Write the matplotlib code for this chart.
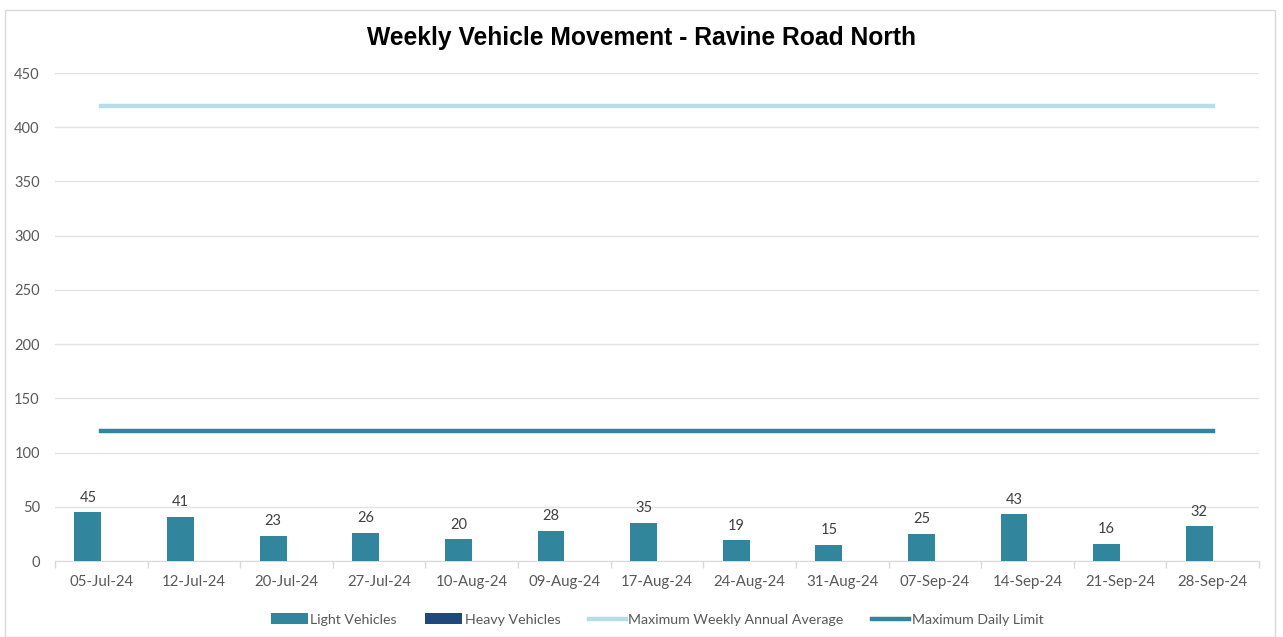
import numpy as np
import matplotlib
matplotlib.use("Agg")
import matplotlib.pyplot as plt
from matplotlib.patches import Rectangle

weeks = ["05-Jul-24", "12-Jul-24", "20-Jul-24", "27-Jul-24", "10-Aug-24", "09-Aug-24",
         "17-Aug-24", "24-Aug-24", "31-Aug-24", "07-Sep-24", "14-Sep-24", "21-Sep-24", "28-Sep-24"]
light = [45, 41, 23, 26, 20, 28, 35, 19, 15, 25, 43, 16, 32]
heavy = [0] * 13
weekly_avg = [420] * 13
daily_limit = [120] * 13

plt.rcParams['font.family'] = ['Lato', 'DejaVu Sans']

fig = plt.figure(figsize=(12.83, 6.37), dpi=100)
ax = fig.add_axes([0.0429, 0.1193, 0.9384, 0.7661])

x = np.arange(len(weeks))
w = 0.29
b1 = ax.bar(x - w / 2, light, w, color="#31859C", label="Light Vehicles", zorder=3)
b2 = ax.bar(x + w / 2, heavy, w, color="#1F497D", label="Heavy Vehicles", zorder=3)
l1, = ax.plot(x, weekly_avg, color="#B7DEE8", lw=3.2, label="Maximum Weekly Annual Average", zorder=4)
l2, = ax.plot(x, daily_limit, color="#31859C", lw=3.2, label="Maximum Daily Limit", zorder=4)

for xi, v in zip(x, light):
    ax.text(xi - w / 2, v + 7, str(v), ha="center", va="bottom", fontsize=10.5, color="#404040")

ax.set_xlim(-0.5, len(weeks) - 0.5)
ax.set_ylim(0, 450)
ax.set_yticks(np.arange(0, 451, 50))
ax.set_xticks(x)
ax.set_xticklabels(weeks)
ax.set_xticks(np.arange(-0.5, len(weeks), 1), minor=True)
ax.tick_params(axis="x", which="major", length=0, pad=10, labelsize=10.8, labelcolor="#595959")
ax.tick_params(axis="x", which="minor", length=5, color="#D9D9D9", width=1)
ax.tick_params(axis="y", length=0, pad=11, labelsize=10.5, labelcolor="#595959")
ax.grid(axis="y", color="#E3E3E3", lw=1, zorder=0)
for s in ["top", "right", "left"]:
    ax.spines[s].set_visible(False)
ax.spines["bottom"].set_color("#D9D9D9")

fig.text(0.5, 0.94, "Weekly Vehicle Movement - Ravine Road North", ha="center", va="center",
         fontsize=17.7, fontweight="bold", family="Liberation Sans")

ax.legend([b1, b2, l1, l2], [h.get_label() for h in [b1, b2, l1, l2]],
          loc="center", bbox_to_anchor=(0.5, -0.12), ncol=4, frameon=False, fontsize=10.2,
          labelcolor="#595959", handlelength=2.6, handleheight=0.8, handletextpad=0.2, columnspacing=2.0)

fig.patches.append(Rectangle((0.004, 0.0), 0.99, 0.984, transform=fig.transFigure,
                             fill=False, edgecolor="#D9D9D9", lw=1))

fig.savefig("out.png", dpi=100)
